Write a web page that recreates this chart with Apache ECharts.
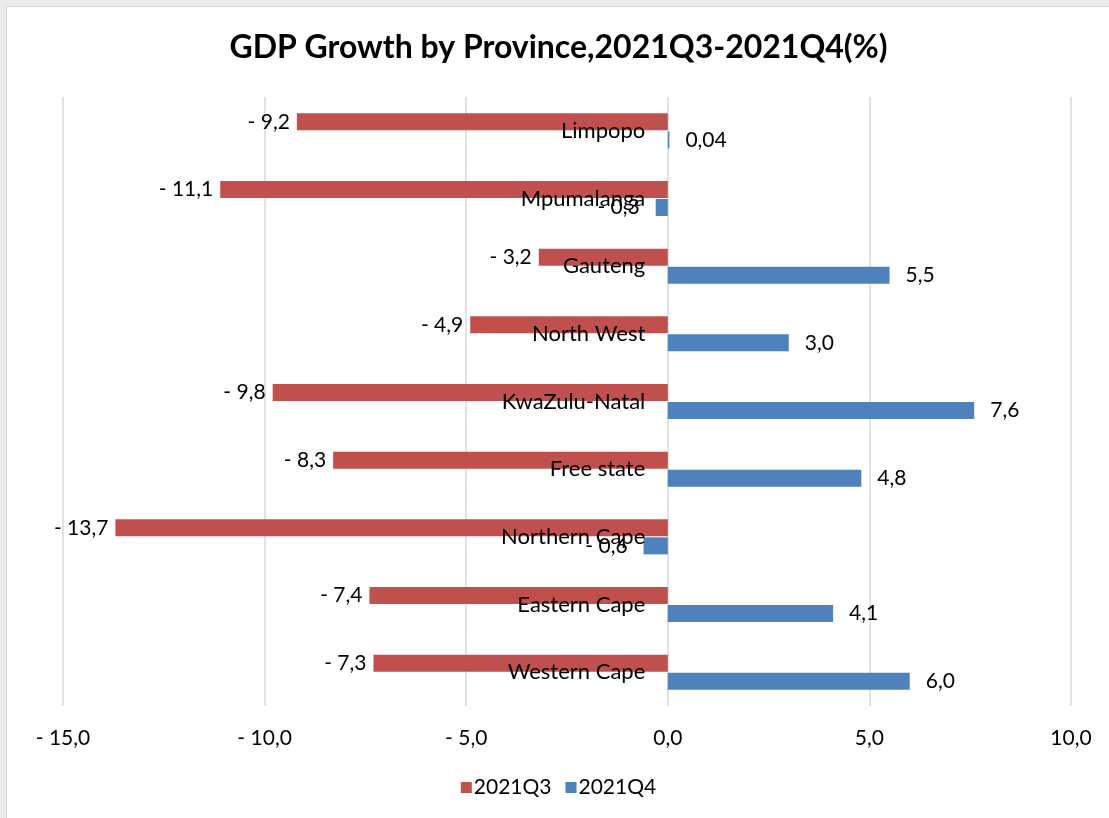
<!DOCTYPE html>
<html>
<head>
<meta charset="utf-8">
<script src="https://cdn.jsdelivr.net/npm/echarts@6/dist/echarts.min.js"></script>
<style>
    html, body { margin: 0; padding: 0; background: #ececec; }
    #main {
        position: absolute; left: 6px; top: 6px;
        width: 1103px; height: 812px;
        background: #fff; border-left: 1px solid #d6d6d6; border-top: 1px solid #d6d6d6;
    }
</style>
</head>
<body>
<div id="main"></div>
<script>
    let provinces = ['Limpopo', 'Mpumalanga', 'Gauteng', 'North West', 'KwaZulu-Natal',
        'Free state', 'Northern Cape', 'Eastern Cape', 'Western Cape'];
    let q3 = [-9.2, -11.1, -3.2, -4.9, -9.8, -8.3, -13.7, -7.4, -7.3];
    let q4 = [0.04, -0.3, 5.5, 3.0, 7.6, 4.8, -0.6, 4.1, 6.0];
    let seriesNames = ['2021Q3', '2021Q4'];
    let axisMin = -15, axisMax = 10, axisStep = 5;

    let font = 'Lato, "Open Sans", sans-serif';

    // excel style: "- 9,2", "0,04"
    function fmt(v, digits) {
        let a = Math.abs(v);
        let d = digits;
        if (d === undefined) {
            let s = String(a).split('.')[1];
            d = Math.max(1, s ? s.length : 0);
        }
        let txt = a.toFixed(d).replace('.', ',');
        return v < 0 ? '- ' + txt : txt;
    }

    function withLabelPos(arr) {
        return arr.map(v => ({
            value: v,
            label: { position: v < 0 ? 'left' : 'right' }
        }));
    }

    var myChart = echarts.init(document.getElementById('main'));
    var option = {
        color: ['#C0504D', '#4F81BD'],
        title: {
            text: 'GDP Growth by Province,2021Q3-2021Q4(%)',
            left: 'center',
            top: 20,
            textStyle: { fontFamily: font, fontSize: 32, fontWeight: 'bold', color: '#000' }
        },
        legend: {
            data: seriesNames,
            bottom: 16,
            left: 'center',
            icon: 'rect',
            itemWidth: 11,
            itemHeight: 11,
            itemGap: 14,
            textStyle: { fontFamily: font, fontSize: 21, color: '#000', padding: [0, 0, 0, -3] }
        },
        grid: { left: 56, right: 39, top: 90, bottom: 113, outerBoundsMode: 'none', containLabel: false },
        xAxis: {
            type: 'value',
            min: axisMin,
            max: axisMax,
            interval: axisStep,
            axisLine: { show: false },
            axisTick: { show: false },
            splitLine: { lineStyle: { color: '#d9d9d9', width: 1.5 } },
            axisLabel: {
                margin: 22,
                fontFamily: font, fontSize: 21, color: '#000',
                formatter: v => fmt(v, 1)
            }
        },
        yAxis: {
            type: 'category',
            inverse: true,
            data: provinces,
            axisLine: { show: false },
            axisTick: { show: false },
            splitLine: { show: false },
            axisLabel: { show: false }
        },
        series: [
            {
                name: seriesNames[0],
                type: 'bar',
                barWidth: 17,
                barGap: '6%',
                data: withLabelPos(q3),
                label: {
                    show: true, distance: 7,
                    fontFamily: font, fontSize: 21, color: '#000',
                    formatter: p => fmt(p.value)
                }
            },
            {
                name: seriesNames[1],
                type: 'bar',
                barWidth: 17,
                barGap: '6%',
                data: withLabelPos(q4),
                label: {
                    show: true, distance: 16,
                    fontFamily: font, fontSize: 21, color: '#000',
                    formatter: p => fmt(p.value)
                }
            },
            {
                // province names sitting next to the zero line
                type: 'scatter',
                symbolSize: 1,
                itemStyle: { opacity: 0 },
                silent: true,
                z: 10,
                data: provinces.map(p => [0, p]),
                label: {
                    show: true, position: 'left', distance: 22, opacity: 1,
                    fontFamily: font, fontSize: 22, color: '#000',
                    textBorderWidth: 0,
                    formatter: p => p.value[1]
                }
            }
        ]
    };
    myChart.setOption(option);
</script>
</body>
</html>
